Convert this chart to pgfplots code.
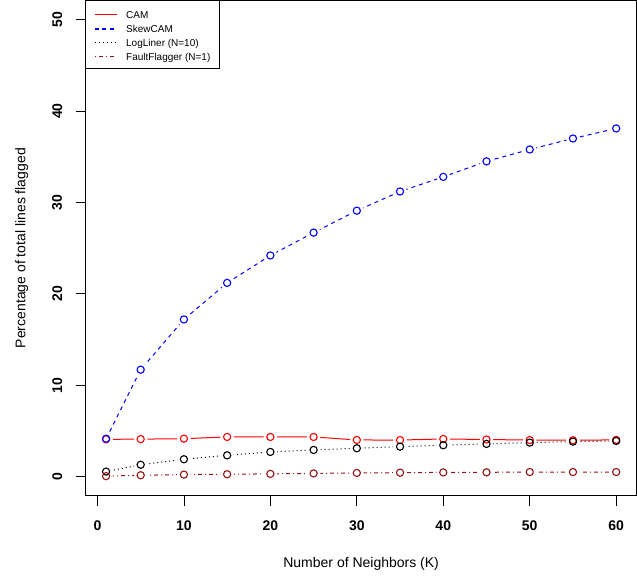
\documentclass[border=0pt]{standalone}
\usepackage{fontspec}
\setmainfont{Liberation Sans}
\usepackage{pgfplots}
\usepackage{pgfplotstable}
\pgfplotsset{compat=1.18}
\definecolor{ffred}{RGB}{150,20,20}
\definecolor{lblue}{RGB}{0,0,255}
\pgfplotstableread{
x cam skew log ff
1 4.08 4.15 0.55 0.05
5 4.10 11.7 1.30 0.15
10 4.15 17.2 1.90 0.22
15 4.34 21.2 2.33 0.26
20 4.34 24.2 2.70 0.30
25 4.34 26.7 2.92 0.35
30 4.01 29.1 3.10 0.40
35 4.00 31.2 3.28 0.43
40 4.12 32.8 3.43 0.46
45 4.06 34.5 3.58 0.47
50 4.00 35.8 3.72 0.50
55 3.98 37.0 3.83 0.50
60 4.02 38.1 3.90 0.50
}\data
\begin{document}
\begin{tikzpicture}
\begin{axis}[
 scale only axis, width=551pt, height=495pt,
 xmin=-1.36, xmax=62.36, ymin=-2.08, ymax=52.08,
 xtick={0,10,...,60}, ytick={0,10,...,50},
 tick align=outside, major tick length=10pt,
 xtick pos=bottom, ytick pos=left,
 /pgf/number format/assume math mode=true,
 tick label style={font=\fontsize{14}{16}\selectfont\bfseries},
 xticklabel style={yshift=-12pt},
 yticklabel style={rotate=90, anchor=south},
 yticklabel shift=10pt,
 xlabel={Number of Neighbors (K)}, ylabel={Percentage of total lines flagged},
 label style={font=\fontsize{14}{16}\selectfont},
 xlabel style={at={([yshift=-68pt]axis description cs:0.5,0)}, anchor=center},
 ylabel style={at={([xshift=-64pt]axis description cs:0,0.5)}, anchor=center},
 axis line style={line width=0.8pt},
 every tick/.style={black, line width=0.8pt},
]
% lines
\addplot[draw=red, line width=1pt] table[y=cam]{\data};
\addplot[draw=blue, line width=1pt, dash pattern=on 4pt off 4pt] table[y=skew]{\data};
\addplot[draw=black, line width=1pt, dash pattern=on 1pt off 3pt] table[y=log]{\data};
\addplot[draw=ffred, line width=1pt, dash pattern=on 1pt off 3pt on 4pt off 3pt] table[y=ff]{\data};
% gaps (type b)
\addplot[white, only marks, mark=*, mark size=6.5pt] table[y=cam]{\data};
\addplot[white, only marks, mark=*, mark size=6.5pt] table[y=skew]{\data};
\addplot[white, only marks, mark=*, mark size=6.5pt] table[y=log]{\data};
\addplot[white, only marks, mark=*, mark size=6.5pt] table[y=ff]{\data};
% circles
\addplot[red, only marks, mark=o, mark size=3.6pt, mark options={line width=1.1pt}] table[y=cam]{\data};
\addplot[blue, only marks, mark=o, mark size=3.6pt, mark options={line width=1.1pt}] table[y=skew]{\data};
\addplot[black, only marks, mark=o, mark size=3.6pt, mark options={line width=1.1pt}] table[y=log]{\data};
\addplot[ffred, only marks, mark=o, mark size=3.6pt, mark options={line width=1.1pt}] table[y=ff]{\data};
\end{axis}
% legend (drawn by hand: box, keys, then texts)
\draw[black, line width=0.8pt, fill=white] (0pt,495pt) rectangle (133.6pt,427.4pt);
\draw[red, line width=1pt] (9.3pt,480.7pt) -- (31pt,480.7pt);
\draw[lblue, line width=1.2pt, dash pattern=on 4pt off 3.5pt] (9.3pt,466.7pt) -- (31pt,466.7pt);
\draw[black, line width=1pt, dash pattern=on 1pt off 3pt] (9.3pt,453pt) -- (31pt,453pt);
\draw[ffred, line width=1pt, dash pattern=on 1pt off 3pt on 4pt off 3pt] (9.3pt,439pt) -- (31pt,439pt);
\begin{scope}[every node/.style={anchor=base west, inner sep=0pt, font=\fontsize{10}{12}\selectfont}]
\node at (40.3pt,477.1pt) {CAM};
\node at (40.3pt,463.1pt) {SkewCAM};
\node at (40.3pt,449.4pt) {LogLiner (N=10)};
\node at (40.3pt,435.4pt) {FaultFlagger (N=1)};
\end{scope}
\path[use as bounding box] (-85.7pt,-81.3pt) rectangle (551.3pt,495.7pt);
\end{tikzpicture}
\end{document}
